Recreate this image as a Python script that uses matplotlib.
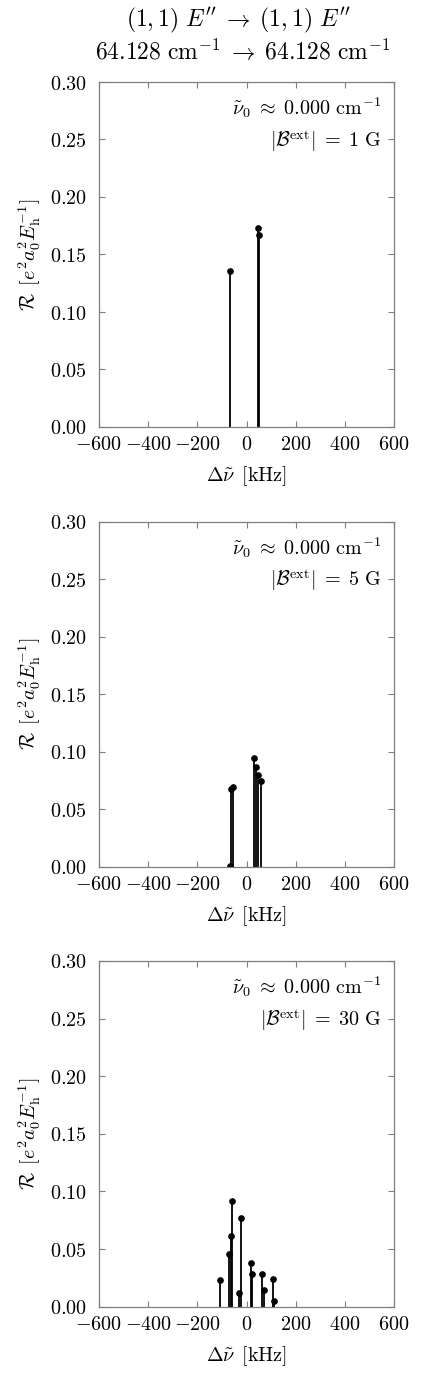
import matplotlib
matplotlib.use("Agg")
import matplotlib.pyplot as plt

plt.rcParams['mathtext.fontset'] = 'cm'
plt.rcParams['font.family'] = ['DejaVu Serif']

# Panel data (Delta nu in kHz, R in e^2 a0^2 / Eh)
x1 = [-66.7, 47.0, 51.0]
y1 = [0.136, 0.173, 0.167]

x2 = [-69.0, -62.5, -53.0, 29.7, 39.0, 48.8, 58.2]
y2 = [0.001, 0.068, 0.069, 0.0945, 0.0867, 0.080, 0.0745]

x3 = [-107.4, -72.0, -65.0, -58.6, -31.3, -22.0, 16.3, 23.0, 63.5, 70.4, 107.0, 112.3]
y3 = [0.023, 0.0456, 0.0612, 0.0913, 0.0122, 0.0774, 0.0383, 0.0282, 0.0282, 0.0143, 0.0243, 0.0052]

fields = ["1", "5", "30"]
xticks = [-600, -400, -200, 0, 200, 400, 600]
yticks = [0.00, 0.05, 0.10, 0.15, 0.20, 0.25, 0.30]

fig = plt.figure(figsize=(4.30, 13.82), dpi=100)
W, H = 430.0, 1382.0
left_px, right_px = 99.0, 394.0
panels_px = [(82.0, 427.0), (521.7, 866.7), (961.0, 1306.7)]

fs = 14.5
grey = '#7f7f7f'
datasets = [(x1, y1), (x2, y2), (x3, y3)]

for i, ((top, bot), (xs, ys), B) in enumerate(zip(panels_px, datasets, fields)):
    ax = fig.add_axes([left_px / W, 1 - bot / H, (right_px - left_px) / W, (bot - top) / H])
    ml, sl, bl = ax.stem(xs, ys, linefmt='k-', markerfmt='ko', basefmt=' ')
    ml.set_markersize(3.8)
    sl.set_linewidth(1.3)
    ax.set_xlim(-600, 600)
    ax.set_ylim(0, 0.30)
    ax.set_xticks(xticks)
    ax.set_xticklabels([r'$%d$' % t for t in xticks])
    ax.set_yticks(yticks)
    ax.set_yticklabels([r'$%.2f$' % t for t in yticks])
    ax.tick_params(axis='both', direction='in', top=True, right=True, length=4,
                   width=0.8, color=grey, labelsize=fs)
    ax.tick_params(axis='y', pad=9)
    ax.tick_params(axis='x', pad=6)
    for s in ax.spines.values():
        s.set_color(grey)
        s.set_linewidth(0.9)
    ax.set_xlabel(r'$\Delta\tilde{\nu}\ \, [\mathrm{kHz}]$', fontsize=fs, labelpad=7)
    ax.set_ylabel(r'$\mathcal{R}\ \, [e^2 a_0^2 E_\mathrm{h}^{-1}]$', fontsize=fs, labelpad=5)
    ax.text(0.955, 0.925, r'$\tilde{\nu}_0 \;\approx\; 0.000\ \mathrm{cm}^{-1}$',
            transform=ax.transAxes, ha='right', va='center', fontsize=fs)
    ax.text(0.955, 0.83, r'$|\mathcal{B}^{\mathrm{ext}}| \;=\; %s\ \mathrm{G}$' % B,
            transform=ax.transAxes, ha='right', va='center', fontsize=fs)
    if i == 0:
        fig.text((left_px + right_px) / 2 / W - 0.02, 1 - 20.0 / H,
                 r"$(1,1)\ E'' \;\rightarrow\; (1,1)\ E''$",
                 ha='center', va='center', fontsize=17)
        fig.text((left_px + right_px) / 2 / W - 0.01, 1 - 52.0 / H,
                 r"$64.128\ \mathrm{cm}^{-1} \;\rightarrow\; 64.128\ \mathrm{cm}^{-1}$",
                 ha='center', va='center', fontsize=17)

fig.savefig("out.png", dpi=100)
